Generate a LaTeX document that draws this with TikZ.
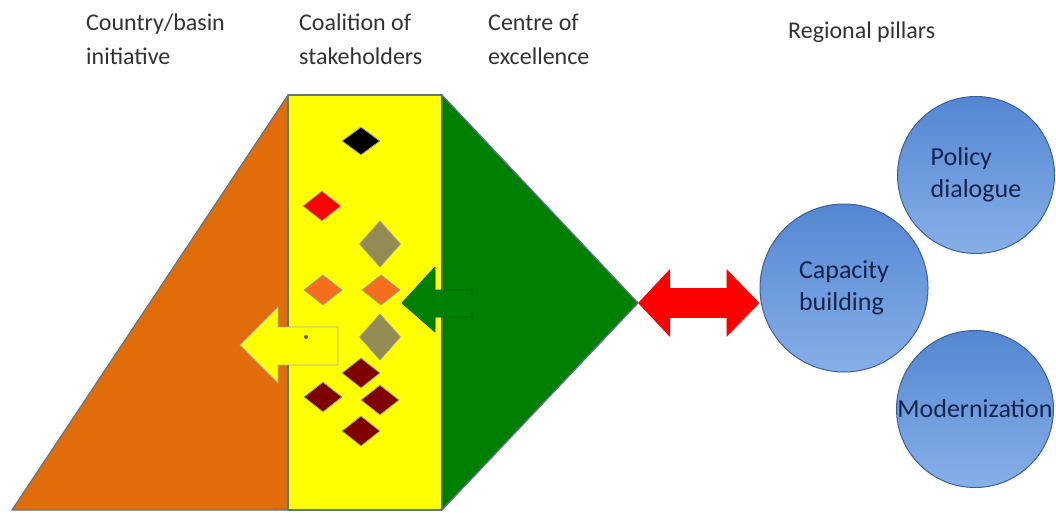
\documentclass[tikz,border=0pt]{standalone}
\usepackage{fontspec}
\setmainfont{Carlito}
\usepackage{tikz}
\usetikzlibrary{arrows.meta, shapes.geometric}

\definecolor{edgegray}{RGB}{95,115,140}
\definecolor{corange}{RGB}{227,108,10}
\definecolor{cyellow}{RGB}{255,255,0}
\definecolor{cgreen}{RGB}{0,128,0}
\definecolor{darkgreen}{RGB}{0,105,0}
\definecolor{gemgray}{RGB}{148,138,84}
\definecolor{gemorange}{RGB}{245,110,30}
\definecolor{gemdkred}{RGB}{128,0,0}
\definecolor{ballhi}{RGB}{84,134,210}
\definecolor{balllo}{RGB}{135,175,232}
\definecolor{balledge}{RGB}{60,95,150}
\definecolor{navytext}{RGB}{22,36,75}
\definecolor{labeltext}{RGB}{50,50,50}

\begin{document}
\begin{tikzpicture}[
  x=1pt, y=-1pt,
  band/.style={draw=edgegray, line width=1.2pt, line join=round},
  gem/.style={diamond, draw=gray!80, line width=0.8pt, inner sep=0pt,
    minimum width=38pt, minimum height=30pt},
  tallgem/.style={gem, minimum width=41pt, minimum height=46pt},
  pillar/.style={circle, draw=balledge, line width=1pt, top color=ballhi, bottom color=balllo,
    inner sep=0pt, align=left, text=navytext, font=\fontsize{26}{32}\selectfont},
  head/.style={anchor=base west, align=left, inner sep=0pt, text=labeltext,
    font=\fontsize{24}{34}\selectfont},
  fatarrow/.style={draw=edgegray!60, line width=0.8pt, line join=round},
  link/.style={line width=30pt, red,
    {Triangle[length=32pt,width=66pt]}-{Triangle[length=33pt,width=66pt]}},
]
\useasboundingbox (0,0) rectangle (1056,512);

% headings (base = last line)
\node[head] (hcountry) at (86,64) {Country/basin\\initiative};
\node[head] (hcoal) at (299,64) {Coalition of\\stakeholders};
\node[head] (hcentre) at (488,64) {Centre of\\excellence};
\node[head] (hpillars) at (788,38) {Regional pillars};

% the three bands
\coordinate (ltop) at (288,95);
\coordinate (lbot) at (288,510);
\coordinate (rtop) at (442,95);
\coordinate (rbot) at (442,510);
\coordinate (apex) at (638,303);
\draw[band, fill=corange] (12,510) -- (ltop) -- (lbot) -- cycle;
\draw[band, fill=cyellow] (ltop) rectangle (rbot);
\draw[band, fill=cgreen] (rtop) -- (apex) -- (rbot) -- cycle;

% stakeholders
\node[gem, fill=black, minimum height=28pt] (g1) at (361,141) {};
\node[gem, fill=red] (g2) at (322,206) {};
\node[tallgem, fill=gemgray] (g3) at (380,244) {};
\node[gem, fill=gemorange] (g4) at (323,290) {};
\node[gem, fill=gemorange] (g5) at (381,290) {};
\node[tallgem, fill=gemgray] (g6) at (380,337) {};
\foreach \gx/\gy [count=\i from 7] in {361/373, 323/397, 380/400, 361/431}
  \node[gem, fill=gemdkred] (g\i) at (\gx,\gy) {};

% arrows inside the bands
\draw[fatarrow, fill=cyellow] (240,345) -- (278,307) -- (278,327) -- (338,327)
  -- (338,365) -- (278,365) -- (278,383) -- cycle;
\fill[gemgray!70!black] (306,337) circle (2pt);
\draw[fatarrow, draw=darkgreen, fill=cgreen] (402,303) -- (435,267) -- (435,290) -- (472,290)
  -- (472,317) -- (435,317) -- (435,332) -- cycle;

% regional pillars
\node[pillar, minimum size=168pt] (cap) at (844,288) {Capacity\\building};
\node[pillar, minimum size=157pt] (policy) at (976,175) {Policy\\dialogue};
\node[pillar, minimum size=157pt] (modern) at (975,409) {Modernization};

\draw[link] (apex) -- (apex -| cap.west);

\end{tikzpicture}
\end{document}
